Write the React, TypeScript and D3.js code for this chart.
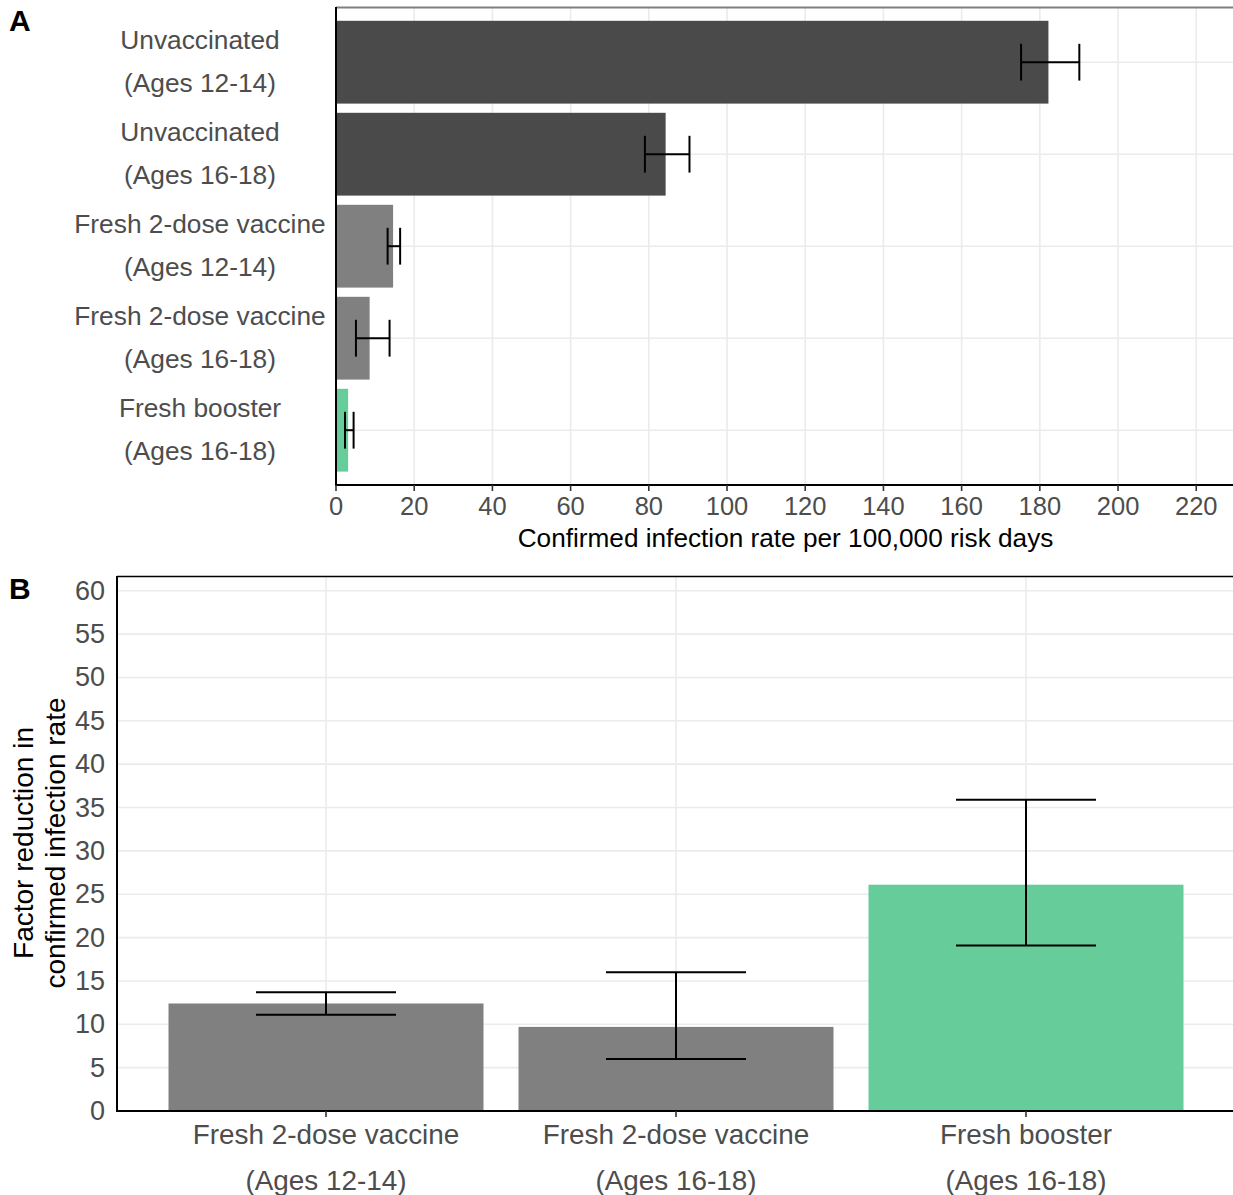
import React from "react";
import * as d3 from "d3";

const catsA: string[][] = [
  ["Unvaccinated", "(Ages 12-14)"],
  ["Unvaccinated", "(Ages 16-18)"],
  ["Fresh 2-dose vaccine", "(Ages 12-14)"],
  ["Fresh 2-dose vaccine", "(Ages 16-18)"],
  ["Fresh booster", "(Ages 16-18)"],
];
const rateA = [182.2, 84.3, 14.6, 8.6, 3.1];
const lowA = [175.2, 79.0, 13.2, 5.1, 2.3];
const highA = [190.1, 90.4, 16.4, 13.7, 4.5];
const colorsA = ["#4a4a4a", "#4a4a4a", "#808080", "#808080", "#66cc99"];
const ticksA = [0, 20, 40, 60, 80, 100, 120, 140, 160, 180, 200, 220];

const catsB: string[][] = [
  ["Fresh 2-dose vaccine", "(Ages 12-14)"],
  ["Fresh 2-dose vaccine", "(Ages 16-18)"],
  ["Fresh booster", "(Ages 16-18)"],
];
const factorB = [12.4, 9.7, 26.1];
const lowB = [11.1, 6.0, 19.1];
const highB = [13.7, 16.0, 35.9];
const colorsB = ["#808080", "#808080", "#66cc99"];
const ticksB = [0, 5, 10, 15, 20, 25, 30, 35, 40, 45, 50, 55, 60];

const FONT = "'Liberation Sans', Arial, sans-serif";
const GRID = "#ebebeb";
const TXT = "#4d4d4d";

export default function App() {
  // Panel A
  const xA = d3.scaleLinear().domain([0, 229.4]).range([336, 1233]);
  const yA = d3.scaleLinear().domain([-0.6, 4.6]).range([7, 485.4]);
  const bandA = yA(1) - yA(0);
  const axA = 485;

  // Panel B
  const xB = d3.scaleLinear().domain([-0.6, 2.6]).range([116, 1236]);
  const yB = d3.scaleLinear().domain([0, 61.7]).range([1111, 576]);
  const bandB = xB(1) - xB(0);

  return (
    <svg
      width={1233}
      height={1195}
      style={{ position: "absolute", left: 0, top: 0, background: "#fff" }}
      fontFamily={FONT}
    >
      <rect x={0} y={0} width={1233} height={1195} fill="#fff" />
      {/* ---------- Panel A ---------- */}
      <g>
        {ticksA.map((t) => (
          <line key={"gx" + t} x1={xA(t)} x2={xA(t)} y1={7} y2={axA} stroke={GRID} strokeWidth={1.6} />
        ))}
        {catsA.map((_, i) => (
          <line key={"gy" + i} x1={336} x2={1233} y1={yA(i)} y2={yA(i)} stroke={GRID} strokeWidth={1.6} />
        ))}
        {rateA.map((v, i) => (
          <rect
            key={"ba" + i}
            x={xA(0)}
            y={yA(i) - bandA * 0.45}
            width={xA(v) - xA(0)}
            height={bandA * 0.9}
            fill={colorsA[i]}
          />
        ))}
        {rateA.map((_, i) => {
          const cy = yA(i);
          const h = bandA * 0.2;
          return (
            <g key={"ea" + i} stroke="#000" strokeWidth={2}>
              <line x1={xA(lowA[i])} x2={xA(highA[i])} y1={cy} y2={cy} />
              <line x1={xA(lowA[i])} x2={xA(lowA[i])} y1={cy - h} y2={cy + h} />
              <line x1={xA(highA[i])} x2={xA(highA[i])} y1={cy - h} y2={cy + h} />
            </g>
          );
        })}
        <line x1={336} x2={1233} y1={7.5} y2={7.5} stroke="#7f7f7f" strokeWidth={2} />
        <line x1={336} x2={336} y1={7} y2={axA} stroke="#000" strokeWidth={2} />
        <line x1={335} x2={1233} y1={axA} y2={axA} stroke="#000" strokeWidth={2} />
        {ticksA.map((t) => (
          <g key={"ta" + t}>
            <line x1={xA(t)} x2={xA(t)} y1={axA} y2={axA + 6} stroke="#333" strokeWidth={1.6} />
            <text x={xA(t)} y={506} textAnchor="middle" dominantBaseline="central" fontSize={25.5} fill={TXT}>
              {t}
            </text>
          </g>
        ))}
        {catsA.map((c, i) => (
          <g key={"la" + i} fill={TXT} fontSize={26.3} textAnchor="middle">
            <text x={200} y={yA(i) - 22} dominantBaseline="central">{c[0]}</text>
            <text x={200} y={yA(i) + 21} dominantBaseline="central">{c[1]}</text>
          </g>
        ))}
        <text x={785.5} y={538} textAnchor="middle" dominantBaseline="central" fontSize={26.2} fill="#000">
          Confirmed infection rate per 100,000 risk days
        </text>
        <text x={9} y={20} dominantBaseline="central" fontSize={30} fontWeight="bold" fill="#000">
          A
        </text>
      </g>

      {/* ---------- Panel B ---------- */}
      <g>
        {ticksB.map((t) => (
          <line key={"gby" + t} x1={117} x2={1233} y1={yB(t)} y2={yB(t)} stroke={GRID} strokeWidth={1.6} />
        ))}
        {catsB.map((_, i) => (
          <line key={"gbx" + i} x1={xB(i)} x2={xB(i)} y1={576} y2={1111} stroke={GRID} strokeWidth={1.6} />
        ))}
        {factorB.map((v, i) => (
          <rect
            key={"bb" + i}
            x={xB(i) - bandB * 0.45}
            y={yB(v)}
            width={bandB * 0.9}
            height={yB(0) - yB(v)}
            fill={colorsB[i]}
          />
        ))}
        {factorB.map((_, i) => {
          const cx = xB(i);
          const w = bandB * 0.2;
          return (
            <g key={"eb" + i} stroke="#000" strokeWidth={2}>
              <line x1={cx} x2={cx} y1={yB(lowB[i])} y2={yB(highB[i])} />
              <line x1={cx - w} x2={cx + w} y1={yB(lowB[i])} y2={yB(lowB[i])} />
              <line x1={cx - w} x2={cx + w} y1={yB(highB[i])} y2={yB(highB[i])} />
            </g>
          );
        })}
        <line x1={117} x2={1233} y1={576.5} y2={576.5} stroke="#000" strokeWidth={1.5} />
        <line x1={117} x2={117} y1={576} y2={1111} stroke="#000" strokeWidth={2} />
        <line x1={116} x2={1233} y1={1111} y2={1111} stroke="#000" strokeWidth={2} />
        {ticksB.map((t) => (
          <text key={"tb" + t} x={105} y={yB(t)} textAnchor="end" dominantBaseline="central" fontSize={27} fill={TXT}>
            {t}
          </text>
        ))}
        {catsB.map((c, i) => (
          <g key={"lb" + i} fill={TXT} fontSize={27.9} textAnchor="middle">
            <line x1={xB(i)} x2={xB(i)} y1={1111} y2={1117} stroke="#333" strokeWidth={1.6} />
            <text x={xB(i)} y={1134} dominantBaseline="central">{c[0]}</text>
            <text x={xB(i)} y={1180} dominantBaseline="central">{c[1]}</text>
          </g>
        ))}
        <g transform="translate(0,843) rotate(-90)" fontSize={28} fill="#000" textAnchor="middle">
          <text x={0} y={23} dominantBaseline="central">Factor reduction in</text>
          <text x={0} y={55} dominantBaseline="central">confirmed infection rate</text>
        </g>
        <text x={9} y={588} dominantBaseline="central" fontSize={30} fontWeight="bold" fill="#000">
          B
        </text>
      </g>
    </svg>
  );
}
